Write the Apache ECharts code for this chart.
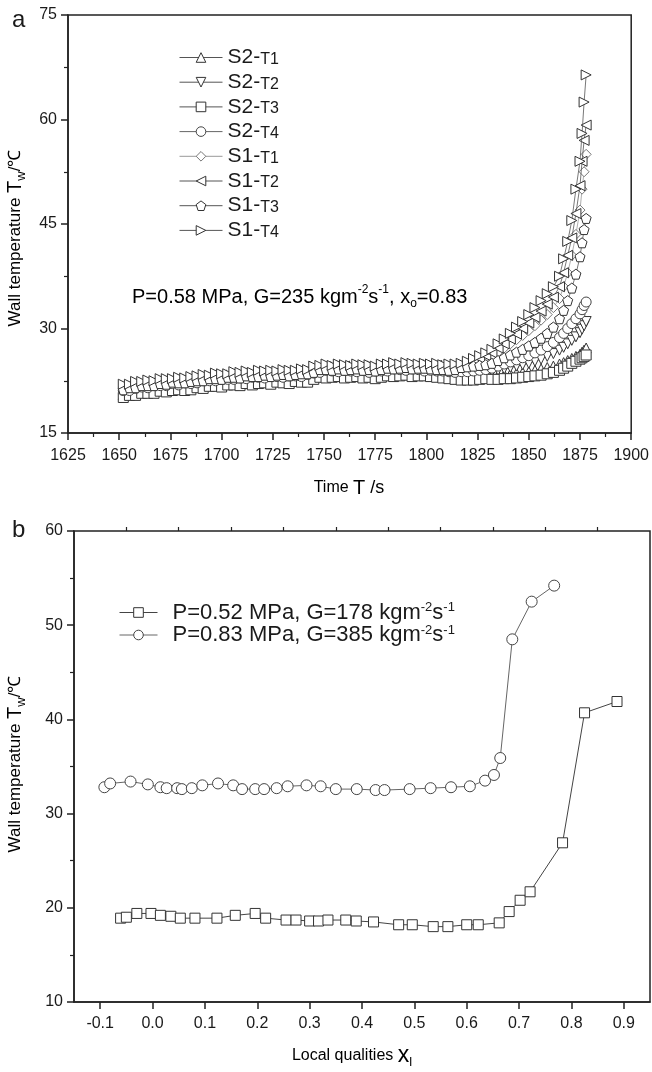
<!DOCTYPE html>
<html><head><meta charset="utf-8">
<script src="https://cdn.jsdelivr.net/npm/echarts@6/dist/echarts.min.js"></script>
<style>html,body{margin:0;padding:0;background:#fff}#c{width:652px;height:1072px}</style>
</head><body><div id="c"></div>
<script>
// ---------- Panel a data ----------
const timeA = [1652,1655,1658,1661,1664,1667,1670,1673,1676,1679,
 1682,1685,1688,1691,1694,1697,1700,1703,1706,1709,
 1712,1715,1718,1721,1724,1727,1730,1733,1736,1739,
 1742,1745,1748,1751,1754,1757,1760,1763,1766,1769,
 1772,1775,1778,1781,1784,1787,1790,1793,1796,1799,
 1802,1805,1808,1811,1814,1817,1820,1823,1826,1829,
 1832,1835,1838,1841,1844,1847,1850,1853,1856,1859,
 1862,1865,1867,1869,1871,1873,1875,1876,1877,1878];

const s2t1 = [20.5,20.6,20.7,21.0,20.9,21.2,21.2,21.2,21.5,21.4,
 21.4,21.6,21.7,21.7,22.0,22.0,21.9,22.2,22.2,22.1,
 22.4,22.3,22.3,22.5,22.4,22.4,22.6,22.5,22.5,22.7,
 22.7,23.1,23.1,23.3,23.4,23.2,23.3,23.4,23.2,23.3,
 23.1,23.3,23.3,23.3,23.6,23.5,23.4,23.6,23.5,23.3,
 23.4,23.3,23.2,23.1,23.1,23.0,23.0,23.0,23.1,23.2,
 23.2,23.3,23.4,23.5,23.6,23.7,23.8,24.0,24.2,24.4,
 24.6,24.9,25.1,25.4,25.7,26.0,26.3,26.6,26.9,27.2];
const s2t2 = [20.6,21.0,21.0,21.3,21.3,21.3,21.6,21.6,21.6,21.8,
 21.8,21.7,22.1,22.1,22.1,22.4,22.2,22.5,22.5,22.4,
 22.7,22.5,22.7,22.8,22.6,22.8,22.9,22.7,22.9,23.0,
 22.9,23.4,23.5,23.5,23.7,23.6,23.5,23.7,23.6,23.5,
 23.6,23.4,23.6,23.8,23.7,23.8,23.9,23.7,23.8,23.8,
 23.7,23.6,23.5,23.5,23.4,23.4,23.4,23.5,23.6,23.7,
 23.8,24.0,24.2,24.4,24.6,24.8,25.0,25.3,25.6,26.0,
 26.4,26.9,27.3,27.8,28.3,28.8,29.4,29.9,30.4,31.0];
const s2t3 = [20.1,20.4,20.4,20.7,20.7,20.7,21.0,20.9,21.1,21.2,
 21.1,21.2,21.5,21.4,21.7,21.7,21.6,21.9,21.9,21.8,
 22.1,21.9,22.1,22.2,22.0,22.3,22.2,22.1,22.4,22.3,
 22.3,22.7,23.0,22.9,23.0,23.1,22.9,23.0,23.1,22.9,
 23.0,22.8,23.0,23.2,23.1,23.2,23.3,23.1,23.2,23.2,
 23.1,23.0,22.9,22.8,22.7,22.6,22.6,22.6,22.7,22.8,
 22.7,22.7,22.8,22.8,22.9,23.0,23.1,23.2,23.3,23.5,
 23.7,24.0,24.3,24.6,25.0,25.3,25.6,25.8,26.0,26.2];
const s2t4 = [21.1,21.1,21.4,21.6,21.5,21.8,21.8,21.8,22.1,21.9,
 22.2,22.1,22.2,22.5,22.5,22.5,22.7,22.7,22.7,22.9,
 22.8,23.0,23.0,22.9,23.1,23.1,23.0,23.2,23.2,23.1,
 23.4,23.6,23.7,24.0,23.9,23.8,24.0,23.9,23.8,24.0,
 23.7,23.9,23.9,23.9,24.2,24.1,24.0,24.2,24.1,23.9,
 24.0,23.9,23.9,23.8,23.7,23.8,23.8,23.9,24.0,24.1,
 24.3,24.6,24.9,25.2,25.5,25.8,26.1,26.5,26.9,27.4,
 28.0,28.7,29.3,30.0,30.7,31.4,32.1,32.7,33.3,33.8];
const s1t1 = [21.6,21.5,21.9,21.8,22.1,22.1,22.1,22.4,22.4,22.5,
 22.4,22.6,22.6,22.9,22.9,22.9,23.1,23.1,23.1,23.3,
 23.4,23.2,23.5,23.4,23.3,23.6,23.4,23.6,23.6,23.5,
 23.8,24.0,24.1,24.4,24.3,24.2,24.4,24.2,24.3,24.4,
 24.1,24.3,24.3,24.3,24.6,24.5,24.4,24.6,24.5,24.3,
 24.4,24.5,24.3,24.2,24.3,24.6,24.8,25.0,25.3,25.6,
 26.0,26.6,27.2,27.8,28.4,29.0,29.7,30.4,31.2,32.0,
 33.0,34.3,36.0,38.0,40.5,43.5,47.0,50.0,52.5,55.0];
const s1t2 = [21.5,21.9,22.0,22.2,22.1,22.4,22.4,22.4,22.7,22.6,
 22.8,22.6,23.0,23.0,23.2,23.1,23.3,23.3,23.3,23.5,
 23.4,23.6,23.6,23.7,23.5,23.8,23.7,23.6,23.9,23.8,
 24.0,24.1,24.5,24.5,24.6,24.4,24.6,24.5,24.4,24.6,
 24.3,24.5,24.5,24.7,24.6,24.8,24.7,24.6,24.8,24.6,
 24.6,24.7,24.5,24.5,24.6,24.8,25.0,25.3,25.7,26.1,
 26.5,27.2,27.8,28.5,29.2,30.0,30.8,31.6,32.5,33.5,
 34.5,36.0,38.0,40.5,43.0,46.5,50.5,54.0,57.0,59.2];
const s1t3 = [21.2,21.5,21.5,21.8,21.8,21.8,22.1,22.0,22.3,22.2,
 22.2,22.4,22.5,22.5,22.8,22.8,22.7,23.0,23.0,22.9,
 23.2,23.1,23.1,23.3,23.1,23.3,23.4,23.2,23.4,23.5,
 23.5,23.7,24.1,24.1,24.0,24.2,24.0,24.1,24.2,24.0,
 24.1,23.9,24.1,24.3,24.2,24.3,24.4,24.2,24.3,24.3,
 24.2,24.1,24.1,24.0,24.1,24.4,24.5,24.6,24.7,24.8,
 25.0,25.4,25.8,26.2,26.6,27.0,27.5,28.0,28.6,29.3,
 30.2,31.4,32.6,34.0,35.8,37.8,40.3,42.3,44.2,45.8];
const s1t4 = [22.0,22.0,22.4,22.4,22.6,22.5,22.8,22.8,22.8,23.0,
 22.9,23.1,23.2,23.4,23.3,23.6,23.5,23.5,23.8,23.7,
 23.9,23.7,24.0,23.9,24.0,23.9,24.1,24.0,24.0,24.2,
 24.1,24.6,24.7,24.9,24.7,24.9,24.8,24.7,24.9,24.8,
 24.8,24.6,24.9,24.9,25.1,24.9,25.1,25.0,24.9,25.0,
 24.9,25.0,24.8,24.9,24.9,25.0,25.3,25.7,26.1,26.5,
 27.0,27.8,28.5,29.3,30.2,31.0,32.0,33.0,34.0,35.0,
 36.0,37.5,40.0,42.5,45.5,50.0,54.0,58.0,62.5,66.4];

const seriesNamesA = ['S2-T1','S2-T2','S2-T3','S2-T4','S1-T1','S1-T2','S1-T3','S1-T4'];
const valuesA = [s2t1,s2t2,s2t3,s2t4,s1t1,s1t2,s1t3,s1t4];

// ---------- Panel b data ----------
const xSquare = [-0.061,-0.050,-0.030,-0.003,0.015,0.035,0.053,0.081,0.123,0.158,0.196,0.216,0.255,0.274,0.300,0.317,0.335,0.369,0.389,0.422,0.470,0.496,0.536,0.564,0.600,0.622,0.662,0.681,0.702,0.721,0.783,0.825,0.887];
const ySquare = [18.9,19.0,19.4,19.4,19.2,19.1,18.9,18.9,18.9,19.2,19.4,18.9,18.7,18.7,18.6,18.6,18.7,18.7,18.6,18.5,18.2,18.2,18.0,18.0,18.2,18.2,18.4,19.6,20.8,21.7,26.9,40.7,41.9];
const xCircle = [-0.092,-0.081,-0.042,-0.009,0.015,0.027,0.047,0.056,0.075,0.095,0.125,0.154,0.171,0.196,0.213,0.237,0.258,0.294,0.321,0.350,0.390,0.426,0.443,0.491,0.531,0.570,0.606,0.635,0.652,0.664,0.687,0.724,0.767];
const yCircle = [32.8,33.2,33.4,33.1,32.8,32.7,32.7,32.6,32.7,33.0,33.2,33.0,32.6,32.6,32.6,32.7,32.9,33.0,32.9,32.6,32.6,32.5,32.5,32.6,32.7,32.8,32.9,33.5,34.1,35.9,48.5,52.5,54.2];
const seriesNamesB = ['P=0.52 MPa, G=178 kgm-2s-1','P=0.83 MPa, G=385 kgm-2s-1'];

// tick labels
const xTicksB = [-0.1,0.0,0.1,0.2,0.3,0.4,0.5,0.6,0.7,0.8,0.9];
const xMinorTicksB = [-0.05,0.05,0.15,0.25,0.35,0.45,0.55,0.65,0.75,0.85];

// ---------- styling ----------
const FONT = '"Liberation Sans", Arial, sans-serif';
const TXT = '#1a1a1a';
const AX = '#222';
const symA = [
  {symbol:'triangle', rot:0, stroke:'#333', line:'#555'},
  {symbol:'triangle', rot:180, stroke:'#333', line:'#555'},
  {symbol:'rect', rot:0, stroke:'#333', line:'#555'},
  {symbol:'circle', rot:0, stroke:'#444', line:'#666'},
  {symbol:'diamond', rot:0, stroke:'#777', line:'#999'},
  {symbol:'triangle', rot:90, stroke:'#333', line:'#555'},
  {symbol:'path://M50,0 L97.6,34.5 L79.4,90.5 L20.6,90.5 L2.4,34.5 Z', rot:0, stroke:'#333', line:'#555'},
  {symbol:'triangle', rot:-90, stroke:'#333', line:'#555'}
];

const series = [];
seriesNamesA.forEach((nm, k) => {
  series.push({
    type:'line', name:nm, xAxisIndex:0, yAxisIndex:0,
    data: timeA.map((t,i)=>[t, valuesA[k][i]]),
    symbol: symA[k].symbol, symbolRotate: symA[k].rot, symbolSize: 10,
    lineStyle:{color:symA[k].line, width:0.8},
    itemStyle:{color:'#fff', borderColor:symA[k].stroke, borderWidth:1},
    emphasis:{disabled:true}, animation:false, z: 2+k
  });
});
series.push({
  type:'line', name:seriesNamesB[0], xAxisIndex:1, yAxisIndex:1,
  data: xSquare.map((x,i)=>[x, ySquare[i]]),
  symbol:'rect', symbolSize:10,
  lineStyle:{color:'#444', width:1},
  itemStyle:{color:'#fff', borderColor:'#333', borderWidth:1},
  emphasis:{disabled:true}, animation:false
});
series.push({
  type:'line', name:seriesNamesB[1], xAxisIndex:1, yAxisIndex:1,
  data: xCircle.map((x,i)=>[x, yCircle[i]]),
  symbol:'circle', symbolSize:11,
  lineStyle:{color:'#666', width:1},
  itemStyle:{color:'#fff', borderColor:'#444', borderWidth:1},
  emphasis:{disabled:true}, animation:false
});

const lbl = {color:TXT, fontFamily:FONT, fontSize:16};
const axisLine = {show:true, onZero:false, lineStyle:{color:AX, width:1.5}};

const richLegendA = {
  a:{fontSize:21, fontFamily:FONT, color:TXT, lineHeight:20},
  b:{fontSize:16, fontFamily:FONT, color:TXT, lineHeight:17, verticalAlign:'bottom'}
};
const richSup = (fs, lh) => ({
  n:{fontSize:fs, fontFamily:FONT, color:TXT, lineHeight:lh},
  sp:{fontSize:Math.round(fs*0.6), fontFamily:FONT, color:TXT, lineHeight:Math.round(fs*0.6), verticalAlign:'top'},
  sb:{fontSize:Math.round(fs*0.6), fontFamily:FONT, color:TXT, lineHeight:Math.round(fs*0.6), verticalAlign:'bottom'}
});
const yNameRich = {
  s:{fontSize:17,fontFamily:FONT,color:TXT,lineHeight:26},
  t:{fontSize:20,fontFamily:FONT,color:TXT,lineHeight:26},
  w:{fontSize:13,fontFamily:FONT,color:TXT,lineHeight:11,verticalAlign:'bottom'},
  u:{fontSize:17,fontFamily:FONT,color:TXT,lineHeight:26}
};

const option = {
  backgroundColor:'#fff',
  animation:false,
  grid:[
    {left:68, top:15, width:565, height:418, show:true, borderColor:AX, borderWidth:1.5, backgroundColor:'transparent'},
    {left:74, top:531, width:576, height:471, show:true, borderColor:AX, borderWidth:1.5, backgroundColor:'transparent'}
  ],
  xAxis:[
    {type:'value', gridIndex:0, min:1625, max:1900, interval:25, axisLine,
     axisTick:{show:true, length:7, lineStyle:{color:AX, width:1.5}},
     minorTick:{show:true, splitNumber:2, length:4, lineStyle:{color:AX, width:1.2}},
     splitLine:{show:false}, axisLabel:{...lbl, margin:15, formatter:(v)=>String(v)}},
    {type:'value', gridIndex:1, min:-0.15, max:0.95, axisLine,
     axisTick:{show:true, length:7, customValues:xTicksB, lineStyle:{color:AX, width:1.5}},
     splitLine:{show:false},
     axisLabel:{...lbl, margin:14, customValues:xTicksB, formatter:(v)=>Number(v).toFixed(1)}},
    {type:'value', gridIndex:1, min:-0.15, max:0.95, axisLine:{show:false},
     axisTick:{show:true, length:4, customValues:xMinorTicksB, lineStyle:{color:AX, width:1.2}},
     splitLine:{show:false}, axisLabel:{show:false}}
  ],
  yAxis:[
    {type:'value', gridIndex:0, min:15, max:75, interval:15, axisLine,
     axisTick:{show:true, length:7, lineStyle:{color:AX, width:1.5}},
     minorTick:{show:true, splitNumber:2, length:4, lineStyle:{color:AX, width:1.2}},
     splitLine:{show:false}, axisLabel:{...lbl, margin:11}},
    {type:'value', gridIndex:1, min:10, max:60, interval:10, axisLine,
     axisTick:{show:true, length:7, lineStyle:{color:AX, width:1.5}},
     minorTick:{show:true, splitNumber:2, length:4, lineStyle:{color:AX, width:1.2}},
     splitLine:{show:false}, axisLabel:{...lbl, margin:11}}
  ],
  legend:[
    {data:seriesNamesA, orient:'vertical', left:174, top:42, itemWidth:43, itemHeight:12, itemGap:3.7,
     textStyle:{rich:richLegendA},
     lineStyle:{width:1}, itemStyle:{color:'#fff', borderWidth:1},
     formatter:(nm)=>'{a|'+nm.slice(0,3)+'}{b|'+nm.slice(3)+'}', selectedMode:false},
    {data:seriesNamesB, orient:'vertical', left:114, top:596, itemWidth:38, itemHeight:12, itemGap:0,
     textStyle:{rich:richSup(22, 23), padding:[0,0,0,10]},
     lineStyle:{width:1}, itemStyle:{color:'#fff', borderWidth:1},
     formatter:(nm)=>'{n|'+nm.replace('kgm-2s-1','')+'kgm}{sp|-2}{n|s}{sp|-1}',
     selectedMode:false}
  ],
  graphic:[
    {type:'text', left:12, top:8, style:{text:'a', font:'24px '+FONT, fill:TXT}},
    {type:'text', left:12, top:518, style:{text:'b', font:'24px '+FONT, fill:TXT}},
    {type:'text', x:132, y:297, style:{text:'{n|P=0.58 MPa, G=235 kgm}{sp|-2}{n|s}{sp|-1}{n|, x}{sb|o}{n|=0.83}', rich:richSup(20, 26), verticalAlign:'middle'}},
    {type:'text', x:349, y:488, style:{align:'center', verticalAlign:'middle', text:'{s|Time }{t|T}{u| /s}',
      rich:{s:{fontSize:16,fontFamily:FONT,color:TXT}, t:{fontSize:20,fontFamily:FONT,color:TXT}, u:{fontSize:18,fontFamily:FONT,color:TXT}}}},
    {type:'text', x:352, y:1056, style:{align:'center', verticalAlign:'middle', text:'{s|Local qualities }{t|x}{w|l}',
      rich:{s:{fontSize:16,fontFamily:FONT,color:TXT,lineHeight:26}, t:{fontSize:23,fontFamily:FONT,color:TXT,lineHeight:26}, w:{fontSize:13,fontFamily:FONT,color:TXT,lineHeight:11,verticalAlign:'bottom'}}}},
    {type:'text', x:15, y:238, rotation:Math.PI/2, style:{align:'center', verticalAlign:'middle', text:'{s|Wall temperature }{t|T}{w|w}{u|/℃}', rich:yNameRich}},
    {type:'text', x:15, y:764, rotation:Math.PI/2, style:{align:'center', verticalAlign:'middle', text:'{s|Wall temperature }{t|T}{w|w}{u|/℃}', rich:yNameRich}}
  ],
  series
};
const chart = echarts.init(document.getElementById('c'), null, {renderer:'canvas'});
chart.setOption(option);
</script>
</body></html>
